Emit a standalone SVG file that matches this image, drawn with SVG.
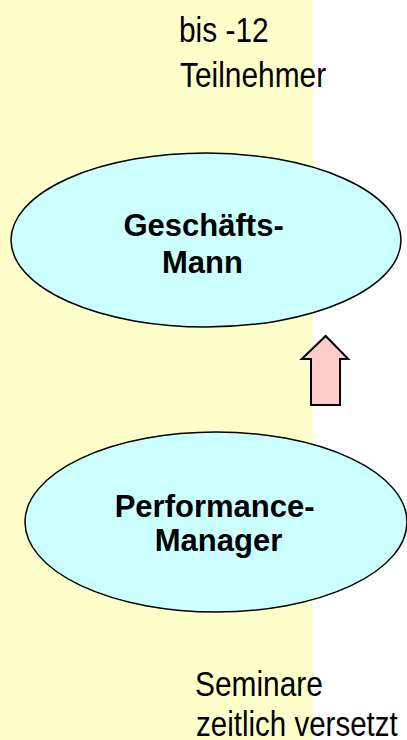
<svg xmlns="http://www.w3.org/2000/svg" width="407" height="740" viewBox="0 0 407 740">
<style>
.bg{fill:#FFFFCC}
.node{fill:#CCFFFF;stroke:#000;stroke-width:1.5}
.lbl{font-family:"Liberation Sans",Arial,sans-serif;font-weight:bold;font-size:31px;fill:#000}
.note{font-family:"Liberation Sans",Arial,sans-serif;font-size:36px;fill:#000}
.arrow{fill:#FFCCCC;stroke:#000;stroke-width:2;stroke-linejoin:miter}
</style>
<rect x="0" y="0" width="407" height="740" fill="#FFFFFF"/>
<rect class="bg" x="0" y="0" width="313" height="740"/>
<g id="note-top">
<text class="note" transform="translate(179,41.7) scale(0.83,1)">bis -12</text>
<text class="note" transform="translate(180,86.7) scale(0.83,1)">Teilnehmer</text>
</g>
<g id="geschaeftsmann">
<ellipse class="node" cx="206" cy="240" rx="195" ry="87"/>
<text class="lbl" x="123.5" y="236">Geschäfts-</text>
<text class="lbl" x="162" y="273">Mann</text>
</g>
<g id="performance-manager">
<ellipse class="node" cx="216" cy="522" rx="191" ry="90"/>
<text class="lbl" x="114.7" y="516.7">Performance-</text>
<text class="lbl" x="154.8" y="550.7">Manager</text>
</g>
<g id="connectors">
<polygon class="arrow" points="325.7,336 348.3,359 340,359 340,405 311,405 311,359 301.7,359"/>
</g>
<g id="note-bottom">
<text class="note" transform="translate(195,695.7) scale(0.83,1)">Seminare</text>
<text class="note" transform="translate(196,735.5) scale(0.82,1)">zeitlich versetzt</text>
</g>
</svg>
